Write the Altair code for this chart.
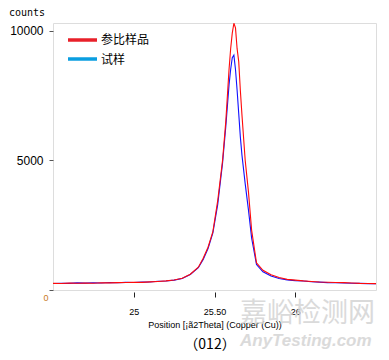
import altair as alt
import pandas as pd

theta = [24.50, 24.55, 24.60, 24.65, 24.70, 24.75, 24.80, 24.85, 24.90, 24.95,
         25.00, 25.05, 25.10, 25.15, 25.20, 25.25, 25.30, 25.35, 25.40, 25.43,
         25.46, 25.49, 25.52, 25.55, 25.57, 25.59, 25.60, 25.61, 25.62, 25.63,
         25.64, 25.65, 25.66, 25.67, 25.69, 25.71, 25.73, 25.76, 25.80, 25.85,
         25.90, 25.95, 26.00, 26.05, 26.10, 26.15, 26.20, 26.25, 26.30, 26.35,
         26.40, 26.45, 26.50]

ref_counts = [255, 250, 265, 258, 270, 262, 280, 275, 285, 290,
              300, 295, 315, 330, 350, 385, 450, 610, 880, 1220,
              1650, 2250, 3450, 5000, 6500, 8500, 9300, 9900, 10280, 10100,
              9300, 8800, 7700, 6750, 5000, 3800, 2300, 1050, 760, 590,
              480, 410, 380, 350, 330, 310, 300, 290, 285, 270,
              255, 250, 245]

sample_counts = [250, 262, 255, 275, 265, 280, 270, 290, 280, 295,
                 290, 305, 310, 335, 345, 380, 440, 600, 860, 1180,
                 1600, 2200, 3300, 4900, 6300, 7900, 8500, 8950, 9050, 8500,
                 7700, 6800, 5900, 5200, 4100, 3100, 2000, 980, 700, 540,
                 440, 390, 360, 345, 320, 305, 285, 280, 270, 262,
                 255, 245, 240]

series_names = ["参比样品", "试样"]
x_ticks = [25, 25.5, 26]
y_ticks = [0, 5000, 10000]

df = pd.DataFrame({
    "theta": theta * 2,
    "counts": sample_counts + ref_counts,
    "series": [series_names[1]] * len(theta) + [series_names[0]] * len(theta),
})

W, H = 323, 267

x_scale = alt.Scale(domain=[24.5, 26.5], nice=False, zero=False)
y_scale = alt.Scale(domain=[0, 10290], nice=False)

lines = alt.Chart(df).mark_line(strokeWidth=1.1, clip=True).encode(
    x=alt.X("theta:Q", scale=x_scale,
            axis=alt.Axis(values=x_ticks, title="Position [¡ã2Theta] (Copper (Cu))",
                          labelExpr="datum.value == 25.5 ? '25.50' : format(datum.value, 'd')",
                          grid=False, domain=False, offset=2, tickSize=5,
                          tickColor="#222", labelFont="Liberation Sans", labelFontSize=9,
                          labelColor="#000", labelPadding=10,
                          titleFont="Liberation Sans", titleFontSize=9,
                          titleFontWeight="normal", titleColor="#000", titlePadding=4)),
    y=alt.Y("counts:Q", scale=y_scale,
            axis=alt.Axis(values=y_ticks, title=None, format="d",
                          labelExpr="datum.value == 0 ? '' : datum.label",
                          grid=False, domain=False, tickSize=4, tickColor="#555",
                          labelFont="Liberation Sans", labelFontSize=12,
                          labelColor="#000", labelPadding=6)),
    color=alt.Color("series:N", scale=alt.Scale(domain=[series_names[1], series_names[0]],
                                                range=["#1010ff", "#ff0a0a"]), legend=None),
    order=alt.Order("series:N", sort="descending"),
)

leg_red = alt.Chart(pd.DataFrame({"a": [0]})).mark_rule(strokeWidth=3.5, color="#e8202a").encode(
    x=alt.value(15), x2=alt.value(44), y=alt.value(17))
leg_blue = alt.Chart(pd.DataFrame({"a": [0]})).mark_rule(strokeWidth=3.5, color="#0a9ee0").encode(
    x=alt.value(15), x2=alt.value(44), y=alt.value(36))
leg_text1 = alt.Chart(pd.DataFrame({"t": [series_names[0]]})).mark_text(
    align="left", baseline="middle", font="Noto Sans CJK SC", fontSize=12, color="#000").encode(
    text="t:N", x=alt.value(48), y=alt.value(17))
leg_text2 = alt.Chart(pd.DataFrame({"t": [series_names[1]]})).mark_text(
    align="left", baseline="middle", font="Noto Sans CJK SC", fontSize=12, color="#000").encode(
    text="t:N", x=alt.value(48), y=alt.value(37))

counts_lbl = alt.Chart(pd.DataFrame({"t": ["counts"]})).mark_text(
    align="left", baseline="middle", font="DejaVu Sans Mono", fontSize=10, color="#000").encode(
    text="t:N", x=alt.value(-44), y=alt.value(-10))
zero_lbl = alt.Chart(pd.DataFrame({"t": ["0"]})).mark_text(
    align="center", baseline="middle", font="Liberation Sans", fontSize=9, color="#c87a1e").encode(
    text="t:N", x=alt.value(-7), y=alt.value(275))
plane_lbl = alt.Chart(pd.DataFrame({"t": ["（012）"]})).mark_text(
    align="center", baseline="middle", font="Noto Sans CJK SC", fontSize=14,
    color="#000").encode(text="t:N", x=alt.value(157), y=alt.value(322))
wm1 = alt.Chart(pd.DataFrame({"t": ["嘉峪检测网"]})).mark_text(
    align="left", baseline="middle", font="Noto Sans CJK SC", fontSize=27,
    color="#d4d4d4", opacity=0.85).encode(text="t:N", x=alt.value(187), y=alt.value(291))
wm2 = alt.Chart(pd.DataFrame({"t": ["AnyTesting.com"]})).mark_text(
    align="left", baseline="middle", font="Liberation Sans", fontSize=17, fontStyle="italic",
    fontWeight="bold", color="#d4d4d4", opacity=0.85).encode(text="t:N", x=alt.value(187), y=alt.value(318))

chart = alt.layer(
    wm1, wm2, lines, leg_red, leg_blue, leg_text1, leg_text2, counts_lbl, zero_lbl, plane_lbl
).properties(
    width=W, height=H,
    autosize=alt.AutoSizeParams(type="none"),
    padding={"left": 45, "top": 15, "right": 5, "bottom": 62},
).configure_view(stroke="#000", strokeWidth=1.2).configure(background="white")

chart.save("out.html", embed_options={"renderer": "svg", "actions": False})
